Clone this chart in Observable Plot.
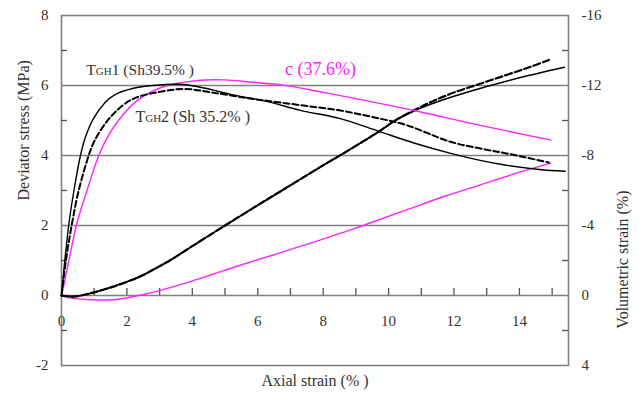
<!DOCTYPE html>
<html><head><meta charset="utf-8">
<script src="https://cdn.jsdelivr.net/npm/d3@7"></script>
<script src="https://cdn.jsdelivr.net/npm/@observablehq/plot@0.6"></script>
<style>body{margin:0;background:#fff}#chart svg{display:block}</style>
</head><body><div id="chart"></div><script>
// Axial strain (%) and deviator stress (MPa)
const strainTGH1 = [0,0.08,0.17,0.24,0.38,0.58,0.73,0.98,1.34,1.6,2.2,2.8,3.7,4.4,5.2,6.3,7.3,8.5,9.7,10.8,11.9,12.8,13.6,14.6,15.4];
const stressTGH1 = [0,0.8,1.6,2.15,3.0,4.0,4.52,5.06,5.52,5.72,5.92,6.0,6.03,5.92,5.74,5.54,5.29,5.06,4.69,4.35,4.06,3.86,3.72,3.6,3.55];
const strainTGH2 = [0,0.1,0.2,0.33,0.5,0.78,1.0,1.5,2.15,3.07,3.8,4.6,5.76,7.29,8.5,9.5,10.54,11.86,12.8,13.6,14.9];
const stressTGH2 = [0,0.76,1.4,2.1,2.9,3.85,4.4,5.1,5.6,5.83,5.9,5.8,5.63,5.44,5.29,5.1,4.87,4.4,4.2,4.06,3.8];
const strainC = [0,0.1,0.24,0.48,0.78,1.14,1.44,1.74,2.3,3.07,4.24,5.0,5.76,6.78,7.9,8.8,10.95,12.56,14.96];
const stressC = [0,0.42,1.06,2.1,3.0,4.0,4.58,5.0,5.56,5.95,6.15,6.16,6.1,6.01,5.82,5.66,5.25,4.91,4.44];
// Axial strain (%) and volumetric strain (%)
const volStrainTGH1 = [0,0.4,0.83,1.3,1.85,2.4,2.87,3.4,3.88,5.0,6.0,7.0,8.0,8.6,9.73,10.2,10.73,11.3,12.0,13.0,14.0,15.37];
const volTGH1 = [0,0.06,-0.1,-0.34,-0.68,-1.08,-1.54,-2.1,-2.68,-4.0,-5.16,-6.3,-7.44,-8.1,-9.4,-10.0,-10.5,-10.94,-11.38,-11.94,-12.44,-13.04];
const volStrainTGH2 = [0,0.4,0.83,1.3,1.85,2.4,2.87,3.4,3.88,5.0,6.0,7.0,8.0,8.6,9.73,10.2,10.73,11.3,12.0,12.8,13.6,14.3,14.9];
const volTGH2 = [0,0.06,-0.1,-0.34,-0.68,-1.08,-1.54,-2.1,-2.68,-4.0,-5.16,-6.3,-7.44,-8.1,-9.4,-10.0,-10.54,-11.06,-11.6,-12.1,-12.6,-13.04,-13.46];
const volStrainC = [0,0.2,0.43,0.9,1.34,1.8,2.36,3.0,3.88,4.6,5.41,6.68,7.39,7.9,9.22,10.5,11.76,12.8,13.79,14.96];
const volC = [0,0.12,0.18,0.24,0.26,0.2,0,-0.28,-0.76,-1.2,-1.7,-2.44,-2.86,-3.16,-4.0,-4.86,-5.7,-6.32,-6.92,-7.56];
// Ticks
const xTickLabels = [0,2,4,6,8,10,12,14];
const xTicks = [1,2,3,4,5,6,7,8,9,10,11,12,13,14,15];
const yTickLabels = [-2,0,2,4,6,8];
const yMinorTicks = [-1,1,3,5,7];
const gridValues = [0,2,4,6];
const labelTGH1 = "TGH1 (Sh39.5% )";
const labelTGH2 = "TGH2 (Sh 35.2% )";
const labelC = "c (37.6%)";

const zip = (xs, ys) => xs.map((x, i) => ({x, y: ys[i]}));
const toStress = v => -v / 2; // right axis: volumetric strain = -2 × left axis value

const font = "Liberation Serif";
const txt = "#333";
const magenta = "#ff22ff";
const curve = "catmull-rom";

const plot = Plot.plot({
  width: 639, height: 401,
  marginLeft: 61, marginRight: 71, marginTop: 15, marginBottom: 36,
  x: {domain: [0, 15.5], axis: null},
  y: {domain: [-2, 8], axis: null},
  style: {fontSize: "15px", color: txt, background: "#fff"},
  marks: [
    Plot.ruleY(gridValues, {stroke: "#808080", strokeWidth: 1.6}),
    Plot.frame({stroke: "#808080", strokeWidth: 1.6}),
    Plot.ruleX(xTicks, {x: d => d, y1: 0, y2: 0, insetBottom: 7, stroke: "#555", strokeWidth: 1.3}),
    Plot.ruleY(yMinorTicks, {y: d => d, x1: 0, x2: 0, insetRight: -6, stroke: "#555", strokeWidth: 1.3}),
    Plot.ruleY(yMinorTicks, {y: d => d, x1: 15.5, x2: 15.5, insetLeft: -6, stroke: "#555", strokeWidth: 1.3}),
    Plot.axisY({anchor: "left", label: null, ticks: yTickLabels, tickSize: 0, tickPadding: 13, tickFormat: d => String(d), fontSize: 15, fontFamily: font}),
    Plot.axisY({anchor: "right", label: null, ticks: yTickLabels, tickSize: 0, tickPadding: 13, tickFormat: d => String(-2 * d), fontSize: 15, fontFamily: font}),
    Plot.text(xTickLabels, {x: d => d, y: 0, dy: 26, text: d => String(d), fontSize: 15, fontFamily: font, fill: txt}),
    // volumetric curves
    Plot.line(zip(volStrainC, volC), {x: "x", y: d => toStress(d.y), stroke: magenta, strokeWidth: 1.4, curve}),
    Plot.line(zip(volStrainTGH1, volTGH1), {x: "x", y: d => toStress(d.y), stroke: "#000", strokeWidth: 1.6, curve}),
    Plot.line(zip(volStrainTGH2, volTGH2), {x: "x", y: d => toStress(d.y), stroke: "#000", strokeWidth: 2.2, strokeDasharray: "7,3", curve}),
    // stress curves
    Plot.line(zip(strainC, stressC), {x: "x", y: "y", stroke: magenta, strokeWidth: 1.4, curve}),
    Plot.line(zip(strainTGH1, stressTGH1), {x: "x", y: "y", stroke: "#000", strokeWidth: 1.4, curve}),
    Plot.line(zip(strainTGH2, stressTGH2), {x: "x", y: "y", stroke: "#000", strokeWidth: 2, strokeDasharray: "6,3", curve}),
    // annotations
    Plot.text([labelTGH1], {x: 0.76, y: 6.43, text: d => d, textAnchor: "start", fontSize: 15.5, fontFamily: font, fill: txt}),
    Plot.text([labelTGH2], {x: 2.26, y: 5.11, text: d => d, textAnchor: "start", fontSize: 16, fontFamily: font, fill: txt}),
    Plot.text([labelC], {x: 6.83, y: 6.46, text: d => d, textAnchor: "start", fontSize: 18, fontFamily: font, fill: magenta}),
    // axis titles
    Plot.text(["Deviator stress (MPa)"], {frameAnchor: "left", text: d => d, rotate: -90, dx: -38, dy: 10, fontSize: 16, fontFamily: font, fill: txt}),
    Plot.text(["Volumetric strain (%)"], {frameAnchor: "right", text: d => d, rotate: -90, dx: 54, dy: 0, fontSize: 16, fontFamily: font, fill: txt}),
    Plot.text(["Axial strain (% )"], {frameAnchor: "bottom", text: d => d, dy: 20, fontSize: 16, fontFamily: font, fill: txt})
  ]
});

const ns = "http://www.w3.org/2000/svg";
plot.setAttribute("font-family", font);
plot.querySelectorAll("text").forEach(t => {
  t.setAttribute("font-family", font);
  if (t.textContent.startsWith("TGH")) {
    const rest = t.textContent.slice(3);
    t.textContent = "";
    t.append("T");
    const ts = document.createElementNS(ns, "tspan");
    ts.setAttribute("font-size", "11");
    ts.textContent = "GH";
    t.append(ts);
    t.append(rest);
  }
});
document.getElementById("chart").append(plot);
</script></body></html>
